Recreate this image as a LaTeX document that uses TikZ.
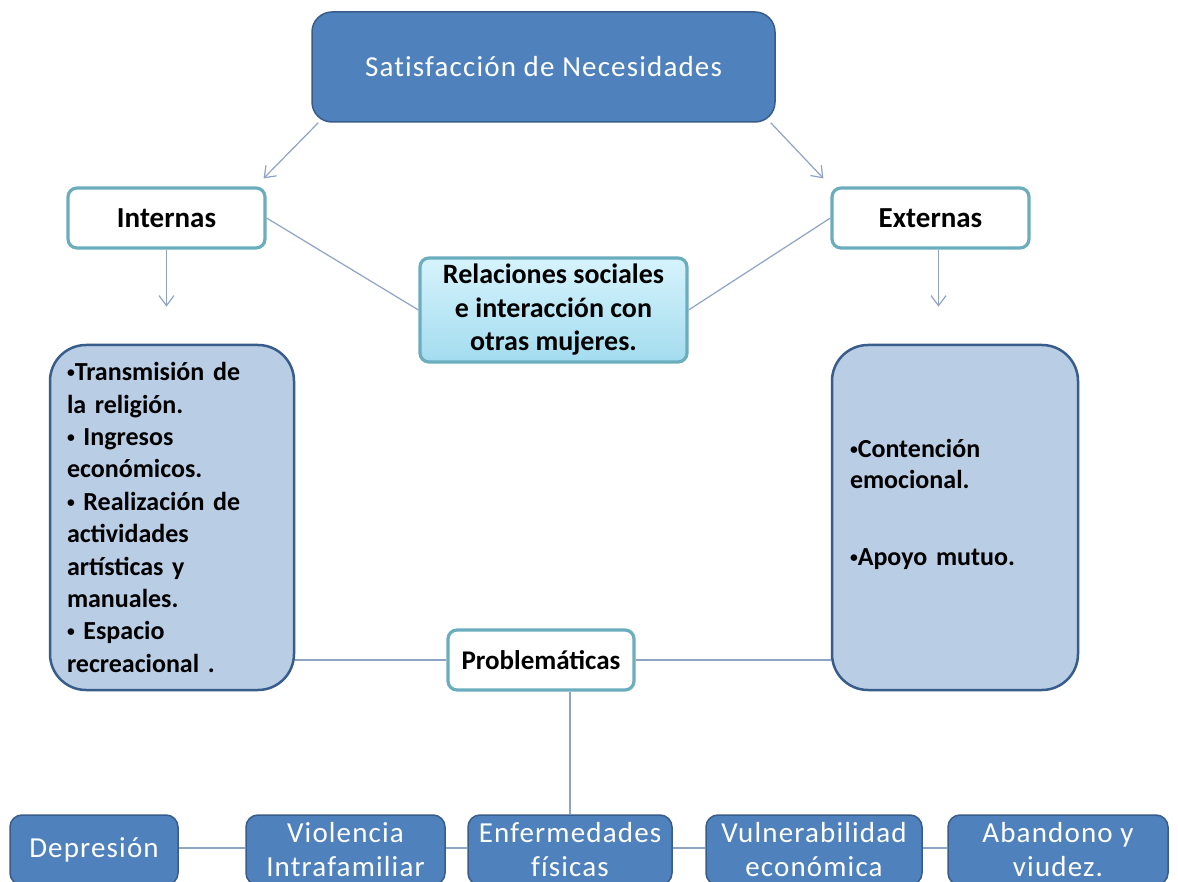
\documentclass[tikz,border=0pt]{standalone}
\usepackage{fontspec}
\setmainfont{Carlito}
\newfontfamily\widefont[LetterSpace=4,Ligatures=NoCommon]{Carlito}
\usetikzlibrary{arrows.meta}
\usetikzlibrary{calc}
\definecolor{boxblue}{HTML}{4F81BD}
\definecolor{boxline}{HTML}{385D8A}
\definecolor{tealline}{HTML}{6AADBD}
\definecolor{listfill}{HTML}{B9CDE5}
\definecolor{linkgray}{HTML}{8FA3C2}
\definecolor{cyantop}{HTML}{D6F3FC}
\definecolor{cyanbot}{HTML}{A3DCEF}
\newcommand{\bul}{\raisebox{0.12em}{\scalebox{0.6}{•}}}

\begin{document}
\begin{tikzpicture}[
            x = 1pt, y = -1pt, % picture in pixel units
            > = {Straight Barb[length=10pt,width=15pt]}, % arrow head style
            link/.style = {draw = linkgray, line width = 1.2pt},
            bluebox/.style = {
                draw = boxline, fill = boxblue, line width = 1.5pt,
                rounded corners = 12pt, text = white, align = center,
                font = \widefont\fontsize{29pt}{34pt}\selectfont
            },
            tealbox/.style = {
                draw = tealline, fill = white, line width = 3.2pt,
                rounded corners = 9pt, align = center,
                font = \bfseries\fontsize{29pt}{33pt}\selectfont
            },
            listbox/.style = {
                draw = boxline, fill = listfill, line width = 2.5pt,
                rounded corners = 36pt, align = left,
                text width = 210pt, minimum height = 345pt,
                font = \bfseries\fontsize{26pt}{32.4pt}\selectfont
            }
        ]

        \clip (0,0) rectangle (1178,882);
        \fill[white] (0,0) rectangle (1178,882);

        % top level
        \node[bluebox, minimum width = 463pt, minimum height = 110pt, rounded corners = 20pt] (SN)
            at (543.5,67) {Satisfacción de Necesidades};

        % internal and external needs
        \node[tealbox, minimum width = 197pt, minimum height = 60pt] (IN) at (166.5,218) {Internas};
        \node[tealbox, minimum width = 197pt, minimum height = 60pt] (EX) at (930.5,218) {Externas};
        \node[tealbox, top color = cyantop, bottom color = cyanbot, minimum width = 267pt, minimum height = 104pt,
              font = \bfseries\fontsize{28pt}{33.5pt}\selectfont]
            (RS) at (553.5,310) {Relaciones sociales\\e interacción con\\otras mujeres.};

        \draw[link, ->] ([xshift=7pt]SN.south west) -- ([xshift=-3pt,yshift=8pt]IN.north east);
        \draw[link, ->] ([xshift=-5pt]SN.south east) -- ([xshift=-7pt,yshift=8pt]EX.north west);
        \draw[link] (IN.east) -- (RS.west);
        \draw[link] (RS.east) -- (EX.west);

        \coordinate (INa) at ($(IN.south)+(0,57)$);
        \coordinate (EXa) at ($(EX.south)+(8,57)$);
        \draw[link, ->] (IN.south) -- (INa);
        \draw[link, ->] ([xshift=8pt]EX.south) -- (EXa);

        % lists
        \node[listbox, minimum width = 244pt] (LI) at (172,517.5)
            {\bul Transmisión de\\la religión.\\\bul{} Ingresos\\económicos.\\\bul{} Realización de\\actividades\\artísticas y\\manuales.\\\bul{} Espacio\\recreacional .};
        \node[listbox, minimum width = 246pt, font = \bfseries\fontsize{26pt}{31pt}\selectfont] (LE) at (955,517.5)
            {\bul Contención\\emocional.\\[46pt]\bul Apoyo mutuo.\\\mbox{}};

        % problems
        \node[tealbox, minimum width = 186pt, minimum height = 60pt, font = \bfseries\fontsize{27pt}{33pt}\selectfont]
            (PR) at (541,660) {Problemáticas};
        \draw[link] (PR.west) -- (PR.west -| LI.east);
        \draw[link] (PR.east) -- (PR.east -| LE.west);

        \node[bluebox, minimum width = 168pt, minimum height = 70pt] (DE) at (94,850) {Depresión};
        \node[bluebox, minimum width = 199pt, minimum height = 70pt] (VI) at (345.5,850) {Violencia\\Intrafamiliar};
        \node[bluebox, minimum width = 204pt, minimum height = 70pt] (EF) at (570,850) {Enfermedades\\físicas};
        \node[bluebox, minimum width = 216pt, minimum height = 70pt] (VU) at (814,850) {Vulnerabilidad\\económica};
        \node[bluebox, minimum width = 220pt, minimum height = 70pt] (AB) at (1058,850) {Abandono y\\viudez.};

        \draw[link] (EF.north) -- (EF.north |- PR.south);
        \draw[link] ([yshift=2pt]DE.east) -- ([yshift=2pt]VI.west);
        \draw[link] ([yshift=2pt]VI.east) -- ([yshift=2pt]EF.west);
        \draw[link] ([yshift=2pt]EF.east) -- ([yshift=2pt]VU.west);
        \draw[link] ([yshift=2pt]VU.east) -- ([yshift=2pt]AB.west);

\end{tikzpicture}
\end{document}
